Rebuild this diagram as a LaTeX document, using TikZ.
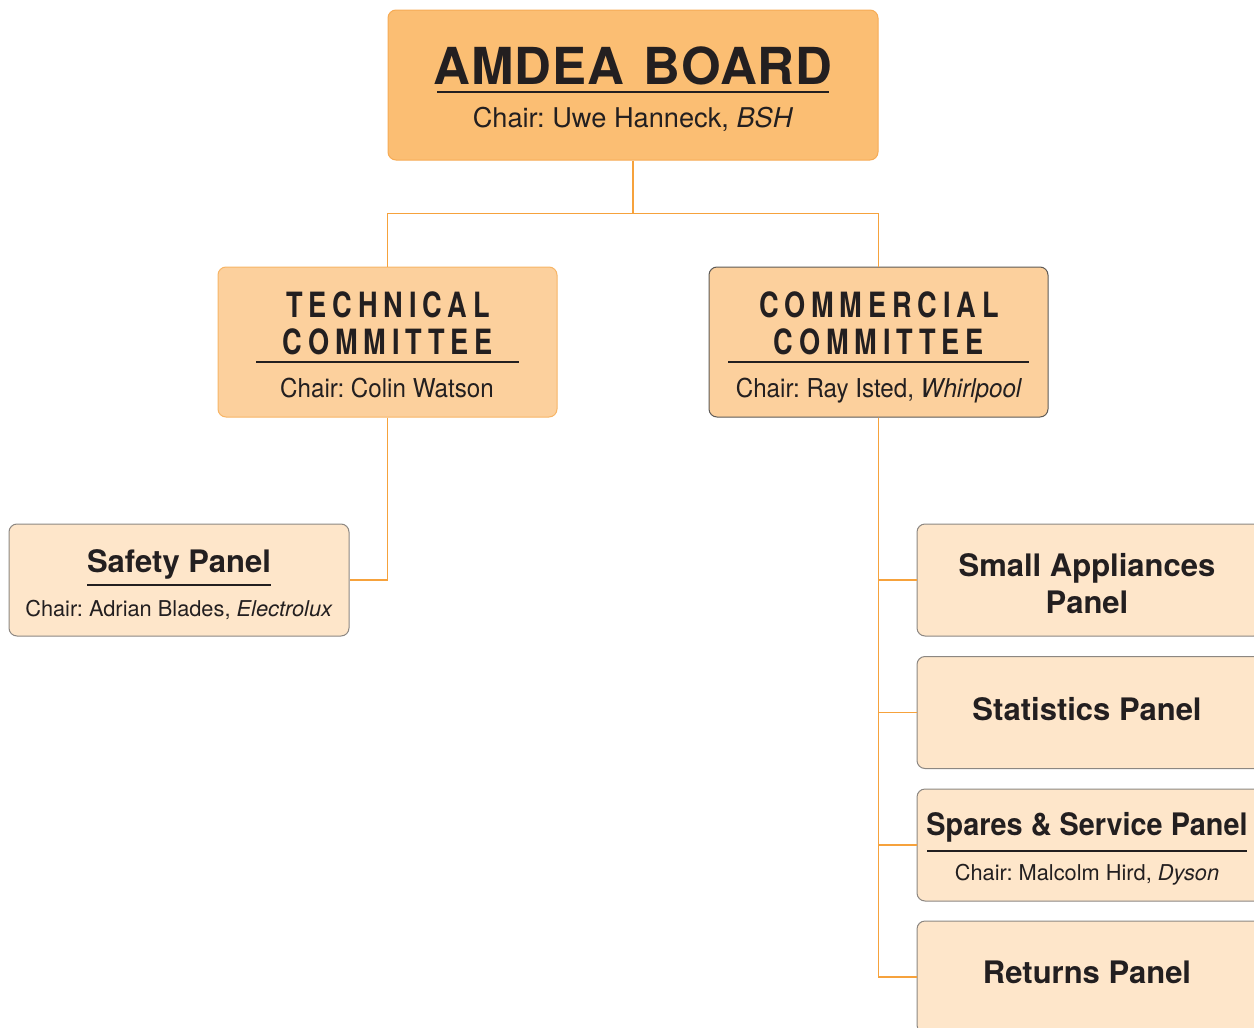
\documentclass[tikz,border=0pt]{standalone}
\usepackage{fontspec}
\setmainfont{TeX Gyre Heros}
\newfontfamily\boardfont[LetterSpace=2]{TeX Gyre Heros}
\newfontfamily\cttfont[FakeStretch=0.78,LetterSpace=17]{TeX Gyre Heros}
\newfontfamily\narrowfont[FakeStretch=0.93]{TeX Gyre Heros}
\newfontfamily\panelfont{TeX Gyre Heros}
\newfontfamily\sparesfont[FakeStretch=0.93]{TeX Gyre Heros}
\usetikzlibrary{positioning}
\frenchspacing

\definecolor{boardfill}{HTML}{FBBE73}
\definecolor{boardline}{HTML}{F6AB55}
\definecolor{cttfill}{HTML}{FCD09D}
\definecolor{techline}{HTML}{F7B566}
\definecolor{commline}{HTML}{5E5A56}
\definecolor{panelfill}{HTML}{FEE6CA}
\definecolor{panelline}{HTML}{8C8782}
\definecolor{linkorange}{HTML}{F6A23C}
\definecolor{inkdark}{HTML}{231F20}

\tikzset{
  boardbox/.style={draw=boardline,fill=boardfill,rounded corners=4pt,line width=0.5pt,
                   minimum width=245pt,minimum height=75pt},
  cttbox/.style={fill=cttfill,rounded corners=4pt,line width=0.5pt,
                 minimum width=169.5pt,minimum height=75pt},
  panelbox/.style={draw=panelline,fill=panelfill,rounded corners=4pt,line width=0.5pt,
                   minimum width=#1,minimum height=56pt},
  link/.style={draw=linkorange,line width=0.6pt},
  hrule/.style={draw=inkdark,line width=0.7pt},
  lbl/.style={anchor=base,inner sep=0pt,text=inkdark}
}

\begin{document}
\begin{tikzpicture}[x=0.5pt,y=-0.5pt]
 \useasboundingbox (0,0) rectangle (1254,1028);

 \node[boardbox] (board) at (633,85) {};
 \node[cttbox,draw=techline] (tech) at (387.5,342) {};
 \node[cttbox,draw=commline] (comm) at (878.5,342) {};
 \node[panelbox=170pt] (safety) at (179,580) {};
 \node[panelbox=172.5pt] (small) at (1089.5,580) {};
 \node[panelbox=172.5pt] (stats) at (1089.5,712.5) {};
 \node[panelbox=172.5pt] (spares) at (1089.5,845) {};
 \node[panelbox=172.5pt] (returns) at (1089.5,977) {};

 \draw[link] (board.south) -- ++(0,53) -| (tech.north);
 \draw[link] (board.south) -- ++(0,53) -| (comm.north);
 \draw[link] (tech.south) |- (safety.east);
 \foreach \p in {small,stats,spares,returns}
   \draw[link] (comm.south) |- (\p.west);

 \node[lbl] (boardname) at (633,84) {\fontsize{25.5}{30}\selectfont\boardfont\bfseries AMDEA\hspace{2pt} BOARD};
 \draw[hrule] (437,92) -- (829,92);
 \node[lbl] (boardchair) at (633,127) {\fontsize{13.6}{16}\selectfont Chair: Uwe Hanneck, \textit{BSH}};

 \node[lbl] (techname) at (388,317) {\fontsize{17.4}{20}\selectfont\cttfont\bfseries TECHNICAL};
 \node[lbl] (techname2) at (388,354) {\fontsize{17.4}{20}\selectfont\cttfont\bfseries COMMITTEE};
 \draw[hrule] (256,362) -- (519,362);
 \node[lbl] (techchair) at (387,397) {\fontsize{13}{16}\selectfont\narrowfont Chair: Colin Watson};

 \node[lbl] (commname) at (879,317) {\fontsize{17.4}{20}\selectfont\cttfont\bfseries COMMERCIAL};
 \node[lbl] (commname2) at (879,354) {\fontsize{17.4}{20}\selectfont\cttfont\bfseries COMMITTEE};
 \draw[hrule] (728,362) -- (1029,362);
 \node[lbl] (commchair) at (879,397) {\fontsize{13}{16}\selectfont\narrowfont Chair: Ray Isted, \textit{Whirlpool}};

 \node[lbl] (safetyname) at (179,572) {\fontsize{15.5}{18}\selectfont\panelfont\bfseries Safety Panel};
 \draw[hrule] (87,585) -- (271,585);
 \node[lbl] (safetychair) at (179,616) {\fontsize{10.9}{13}\selectfont Chair: Adrian Blades, \textit{Electrolux}};

 \node[lbl] (smallname) at (1087,576) {\fontsize{15.5}{18}\selectfont\panelfont\bfseries Small Appliances};
 \node[lbl] (smallname2) at (1087,613) {\fontsize{15.5}{18}\selectfont\panelfont\bfseries Panel};

 \node[lbl] (statsname) at (1087,720) {\fontsize{15.5}{18}\selectfont\panelfont\bfseries Statistics Panel};

 \node[lbl] (sparesname) at (1087,835) {\fontsize{15.5}{18}\selectfont\sparesfont\bfseries Spares \& Service Panel};
 \draw[hrule] (927,851) -- (1247,851);
 \node[lbl] (spareschair) at (1087,880) {\fontsize{10.9}{13}\selectfont Chair: Malcolm Hird, \textit{Dyson}};

 \node[lbl] (returnsname) at (1087,983) {\fontsize{15.5}{18}\selectfont\panelfont\bfseries Returns Panel};
\end{tikzpicture}
\end{document}
